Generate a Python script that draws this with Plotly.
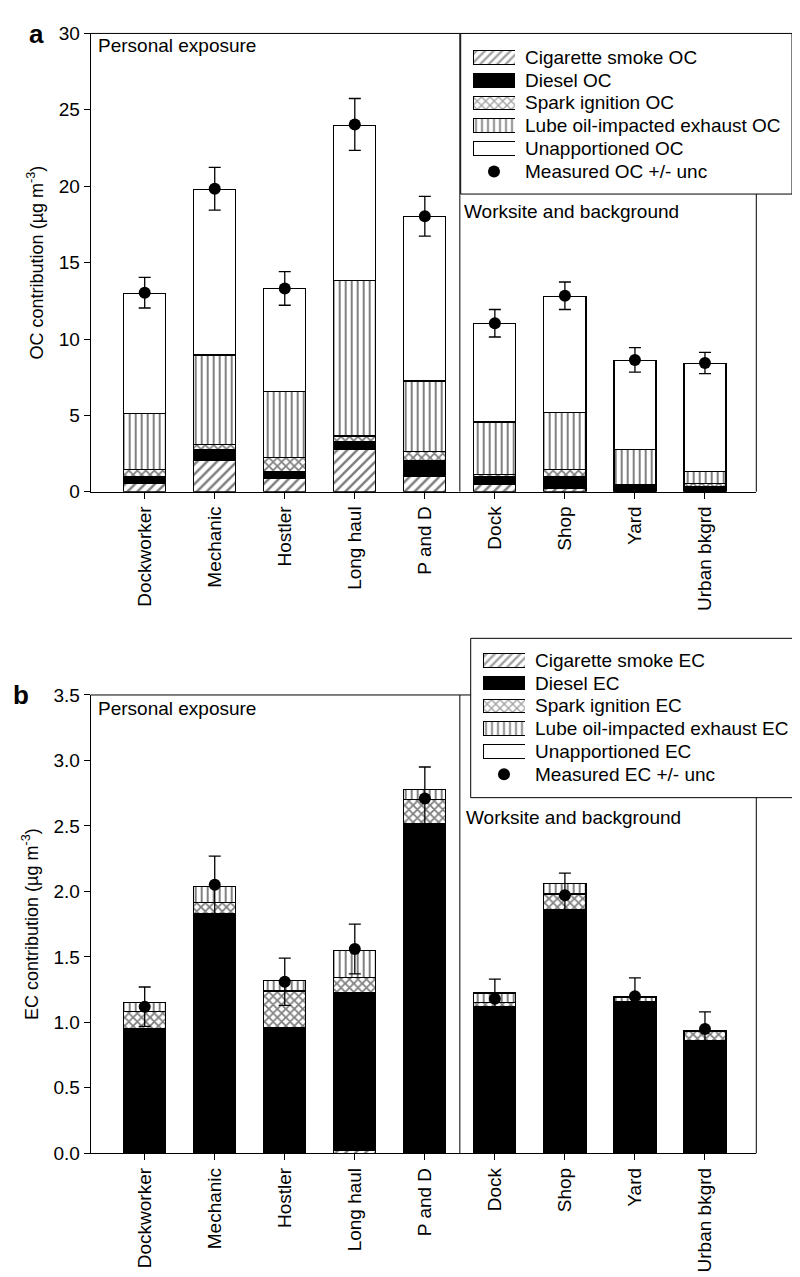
import plotly.graph_objects as go

categories = ["Dockworker", "Mechanic", "Hostler", "Long haul", "P and D",
              "Dock", "Shop", "Yard", "Urban bkgrd"]

# OC (panel a) stacked segment values, ug/m3
oc_cig = [0.58, 2.04, 0.86, 2.75, 1.01, 0.50, 0.22, 0.00, 0.00]
oc_diesel = [0.39, 0.71, 0.43, 0.51, 1.03, 0.47, 0.77, 0.43, 0.32]
oc_spark = [0.47, 0.32, 0.96, 0.39, 0.60, 0.15, 0.45, 0.02, 0.22]
oc_lube = [3.67, 5.88, 4.34, 10.17, 4.61, 3.45, 3.74, 2.34, 0.79]
oc_unapp = [7.88, 10.86, 6.70, 10.18, 10.76, 6.43, 7.62, 5.81, 7.07]
oc_measured = [13.03, 19.83, 13.31, 24.04, 18.03, 11.03, 12.83, 8.63, 8.43]
oc_unc = [1.0, 1.4, 1.1, 1.7, 1.3, 0.9, 0.9, 0.8, 0.7]

# EC (panel b) stacked segment values, ug/m3
ec_cig = [0.00, 0.01, 0.00, 0.02, 0.00, 0.00, 0.00, 0.00, 0.00]
ec_diesel = [0.95, 1.82, 0.96, 1.21, 2.52, 1.12, 1.86, 1.15, 0.86]
ec_spark = [0.13, 0.085, 0.28, 0.11, 0.18, 0.03, 0.12, 0.01, 0.07]
ec_lube = [0.07, 0.125, 0.08, 0.21, 0.08, 0.07, 0.08, 0.03, 0.01]
ec_unapp = [0.00, 0.00, 0.00, 0.00, 0.00, 0.01, 0.00, 0.01, 0.00]
ec_measured = [1.12, 2.05, 1.31, 1.56, 2.71, 1.18, 1.97, 1.20, 0.95]
ec_unc = [0.15, 0.22, 0.18, 0.19, 0.24, 0.15, 0.17, 0.14, 0.13]

oc_ticks = [0, 5, 10, 15, 20, 25, 30]
ec_ticks = [0.0, 0.5, 1.0, 1.5, 2.0, 2.5, 3.0, 3.5]

source_names = ["Cigarette smoke", "Diesel", "Spark ignition",
                "Lube oil-impacted exhaust", "Unapportioned"]

FONT = "Arial, Liberation Sans, sans-serif"
FS = 19
W, H = 800, 1277

def px_x(p):
    return p / W

def px_y(p):
    return 1 - p / H

patterns = [
    dict(color="white", shape="/", size=7, solidity=0.36),
    dict(color="black", shape="", size=6, solidity=0.3),
    dict(color="white", shape="x", size=6, solidity=0.5),
    dict(color="white", shape="|", size=6, solidity=0.33),
    dict(color="white", shape="", size=6, solidity=0.3),
]

def marker_for(p):
    m = dict(color=p["color"], line=dict(color="black", width=1.2))
    if p["shape"]:
        m["pattern"] = dict(shape=p["shape"], fgcolor="black", bgcolor="white",
                            size=p["size"], solidity=p["solidity"])
    return m

fig = go.Figure()

def add_panel(series, measured, unc, suffix, xa, ya):
    for name, p, vals in zip(source_names, patterns, series):
        fig.add_trace(go.Bar(
            x=categories, y=vals, name=f"{name} {suffix}", marker=marker_for(p),
            xaxis=xa, yaxis=ya, width=0.6, showlegend=False,
        ))
    fig.add_trace(go.Scatter(
        x=categories, y=measured, mode="markers", name=f"Measured {suffix} +/- unc",
        marker=dict(color="black", size=12),
        error_y=dict(type="data", array=unc, visible=True, color="black", thickness=1.3, width=6),
        xaxis=xa, yaxis=ya, showlegend=False,
    ))

add_panel([oc_cig, oc_diesel, oc_spark, oc_lube, oc_unapp], oc_measured, oc_unc, "OC", "x", "y")
add_panel([ec_cig, ec_diesel, ec_spark, ec_lube, ec_unapp], ec_measured, ec_unc, "EC", "x2", "y2")

# ---- hand-built legends (swatches on their own small axes) ----
def add_legend(suffix, xa, ya):
    rows = list(range(len(source_names)))
    fig.add_trace(go.Bar(
        x=[1] * len(rows), y=rows, orientation="h", base=0, width=0.6,
        marker=dict(
            color=[p["color"] for p in patterns],
            line=dict(color="black", width=1),
            pattern=dict(shape=[p["shape"] for p in patterns], fgcolor="black",
                         bgcolor="white", size=6, solidity=0.4),
        ),
        xaxis=xa, yaxis=ya, showlegend=False, hoverinfo="skip",
    ))
    fig.add_trace(go.Scatter(
        x=[0.5], y=[len(rows)], mode="markers", marker=dict(color="black", size=12),
        xaxis=xa, yaxis=ya, showlegend=False, hoverinfo="skip",
    ))

add_legend("OC", "x3", "y3")
add_legend("EC", "x4", "y4")

ROW = 23.2
legA = dict(box=(452.7, 15.7, 784, 179), sw_x=(465, 507), text_x=515, row0=40)
legB = dict(box=(462.7, 630.7, 792.7, 792.7), sw_x=(475, 517), text_x=525, row0=653)

def leg_axes(leg):
    n = len(source_names) + 1
    top = leg["row0"] - ROW / 2
    bot = top + n * ROW
    xd = [px_x(leg["sw_x"][0]), px_x(leg["sw_x"][1])]
    yd = [px_y(bot), px_y(top)]
    return xd, yd, n

xd3, yd3, n3 = leg_axes(legA)
xd4, yd4, n4 = leg_axes(legB)

xdom = [px_x(82.7), px_x(748.3)]
xr = [-0.771, 8.733]
axis_common = dict(showline=True, linecolor="black", linewidth=1, mirror=False,
                   ticks="outside", ticklen=6, tickcolor="black", showgrid=False,
                   zeroline=False, tickfont=dict(family=FONT, size=FS, color="black"))
hidden = dict(visible=False, showgrid=False, zeroline=False, fixedrange=True)

fig.update_layout(
    width=W, height=H, paper_bgcolor="white", plot_bgcolor="white",
    margin=dict(l=0, r=0, t=0, b=0), barmode="stack", showlegend=False,
    font=dict(family=FONT, size=FS, color="black"),
    xaxis=dict(domain=xdom, range=xr, anchor="y", tickangle=-90, **axis_common),
    yaxis=dict(domain=[px_y(481.7), px_y(15.7)], range=[0, 30], anchor="x",
               tickvals=oc_ticks, ticktext=[str(t) for t in oc_ticks],
               title=dict(text="OC contribution (µg m<sup>-3</sup>)", font=dict(family=FONT, size=18), standoff=10),
               **axis_common),
    xaxis2=dict(domain=xdom, range=xr, anchor="y2", tickangle=-90, **axis_common),
    yaxis2=dict(domain=[px_y(1154.3), px_y(688.3)], range=[0, 3.5], anchor="x2",
                tickvals=ec_ticks, ticktext=[f"{t:.1f}" for t in ec_ticks],
                title=dict(text="EC contribution (µg m<sup>-3</sup>)", font=dict(family=FONT, size=18), standoff=10),
                **axis_common),
    xaxis3=dict(domain=xd3, range=[0, 1], anchor="y3", **hidden),
    yaxis3=dict(domain=yd3, range=[n3 - 0.5, -0.5], anchor="x3", **hidden),
    xaxis4=dict(domain=xd4, range=[0, 1], anchor="y4", **hidden),
    yaxis4=dict(domain=yd4, range=[n4 - 0.5, -0.5], anchor="x4", **hidden),
)

line = dict(color="black", width=1)
# plot frames (top / right) drawn so they stop at the legend boxes
fig.add_shape(type="line", xref="paper", yref="paper", x0=px_x(82.7), x1=px_x(452.7),
              y0=px_y(15.7), y1=px_y(15.7), line=line)
fig.add_shape(type="line", xref="paper", yref="paper", x0=px_x(748.3), x1=px_x(748.3),
              y0=px_y(179), y1=px_y(481.7), line=line)
fig.add_shape(type="line", xref="paper", yref="paper", x0=px_x(82.7), x1=px_x(462.7),
              y0=px_y(688.3), y1=px_y(688.3), line=line)
fig.add_shape(type="line", xref="paper", yref="paper", x0=px_x(748.3), x1=px_x(748.3),
              y0=px_y(792.7), y1=px_y(1154.3), line=line)
# separators between personal exposure and worksite groups
fig.add_shape(type="line", xref="x", yref="y", x0=4.5, x1=4.5, y0=0, y1=30, line=line)
fig.add_shape(type="line", xref="x2", yref="y2", x0=4.5, x1=4.5, y0=0, y1=3.5, line=line)
# legend boxes
for leg in (legA, legB):
    x0, y0, x1, y1 = leg["box"]
    fig.add_shape(type="rect", xref="paper", yref="paper", x0=px_x(x0), x1=px_x(x1),
                  y0=px_y(y1), y1=px_y(y0), line=line, fillcolor="rgba(0,0,0,0)")

# legend texts
for leg, suffix in ((legA, "OC"), (legB, "EC")):
    labels = [f"{n} {suffix}" for n in source_names] + [f"Measured {suffix} +/- unc"]
    for i, lab in enumerate(labels):
        fig.add_annotation(text=lab, xref="paper", yref="paper", showarrow=False,
                           x=px_x(leg["text_x"]), y=px_y(leg["row0"] + i * ROW),
                           xanchor="left", yanchor="middle",
                           font=dict(family=FONT, size=FS, color="black"))

ann = [
    dict(text="Personal exposure", x=px_x(88), y=px_y(28), xanchor="left", yanchor="middle"),
    dict(text="Worksite and background", x=px_x(454), y=px_y(197), xanchor="left", yanchor="middle"),
    dict(text="Personal exposure", x=px_x(88), y=px_y(702), xanchor="left", yanchor="middle"),
    dict(text="Worksite and background", x=px_x(456), y=px_y(813), xanchor="left", yanchor="middle"),
]
for a in ann:
    fig.add_annotation(xref="paper", yref="paper", showarrow=False,
                       font=dict(family=FONT, size=FS, color="black"), **a)

fig.add_annotation(text="<b>a</b>", xref="paper", yref="paper", x=px_x(28), y=px_y(16),
                   showarrow=False, xanchor="center", yanchor="middle",
                   font=dict(family=FONT, size=26, color="black"))
fig.add_annotation(text="<b>b</b>", xref="paper", yref="paper", x=px_x(13), y=px_y(688),
                   showarrow=False, xanchor="center", yanchor="middle",
                   font=dict(family=FONT, size=26, color="black"))

fig.write_html("out.html")
